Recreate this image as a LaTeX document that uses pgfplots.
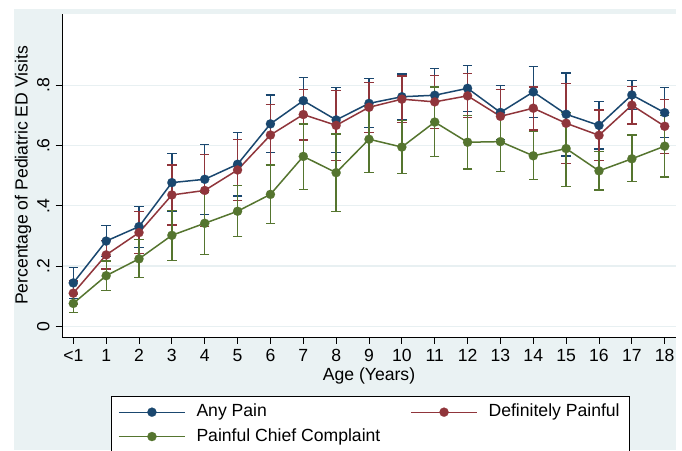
\documentclass[border=0pt]{standalone}
\usepackage{fontspec}
\setmainfont{Liberation Sans}
\usepackage{pgfplots}
\usepackage{pgfplotstable}
\pgfplotsset{compat=1.18}
\definecolor{sblue}{RGB}{26,71,111}
\definecolor{sred}{RGB}{144,53,59}
\definecolor{sgreen}{RGB}{85,117,47}
\definecolor{sbg}{RGB}{234,242,243}
\definecolor{sgrid}{RGB}{232,240,242}

\pgfplotstableread{
x y lo hi
0 .144 .093 .195
1 .283 .231 .335
2 .331 .262 .397
3 .477 .383 .573
4 .488 .372 .603
5 .538 .433 .643
6 .672 .576 .768
7 .749 .672 .826
8 .685 .578 .793
9 .740 .659 .822
10 .762 .685 .838
11 .767 .680 .855
12 .790 .714 .866
13 .710 .620 .800
14 .778 .693 .862
15 .704 .565 .841
16 .667 .589 .747
17 .768 .720 .815
18 .709 .626 .793
}\tblue

\pgfplotstableread{
x y lo hi
0 .110 .072 .150
1 .237 .190 .285
2 .311 .242 .380
3 .436 .336 .535
4 .451 .332 .570
5 .519 .417 .621
6 .635 .535 .736
7 .703 .618 .785
8 .667 .551 .783
9 .727 .644 .810
10 .754 .676 .831
11 .745 .657 .832
12 .765 .694 .840
13 .697 .610 .787
14 .724 .652 .794
15 .674 .541 .807
16 .634 .551 .718
17 .734 .672 .797
18 .664 .574 .754
}\tred

\pgfplotstableread{
x y lo hi
0 .076 .045 .107
1 .168 .119 .217
2 .224 .161 .289
3 .302 .219 .384
4 .342 .239 .445
5 .382 .299 .468
6 .438 .341 .535
7 .564 .455 .672
8 .510 .382 .638
9 .621 .510 .730
10 .595 .508 .683
11 .678 .563 .794
12 .611 .522 .699
13 .613 .513 .710
14 .566 .488 .647
15 .590 .465 .710
16 .516 .452 .580
17 .556 .481 .635
18 .598 .496 .700
}\tgreen

\pgfplotsset{
  series/.style={color=#1, line width=1.5pt, mark=*, mark size=4.6pt,
    mark options={solid, fill=#1, draw=#1, line width=0.1pt},
    error bars/.cd, y dir=both, y explicit,
    error bar style={line width=1.3pt, #1},
    error mark options={rotate=90, line width=1.3pt, mark size=4.7pt, #1}},
}

\begin{document}
\fontsize{17.6}{21}\selectfont
\begin{tikzpicture}[x=1pt,y=1pt]
\path[use as bounding box] (0,0) rectangle (682,450);
\fill[white] (0,0) rectangle (682,450);
\fill[sbg] (14,0) rectangle (676,441);
\begin{axis}[
  at={(62pt,113pt)}, anchor=south west,
  width=614pt, height=323pt, scale only axis,
  xmin=-0.344, xmax=18.344, ymin=-0.0355, ymax=1.0367,
  axis background/.style={fill=white},
  axis x line*=bottom, axis y line*=left,
  axis line style={-, black, line width=0.9pt},
  tick align=outside, major tick length=6.5pt,
  tick style={black, line width=0.9pt},
  xtick={0,1,2,3,4,5,6,7,8,9,10,11,12,13,14,15,16,17,18},
  xticklabels={<1,1,2,3,4,5,6,7,8,9,10,11,12,13,14,15,16,17,18},
  ytick={0,0.2,0.4,0.6,0.8}, yticklabels={0,.2,.4,.6,.8},
  yticklabel style={rotate=90, anchor=south},
  xticklabel style={anchor=north},
  ymajorgrids, grid style={sgrid, line width=1.2pt},
  xlabel={Age (Years)}, ylabel={Percentage of Pediatric ED Visits},
  xlabel style={at={(axis description cs:0.5,-0.1207)}, anchor=center},
  ylabel style={at={(axis description cs:-0.0635,0.5)}, anchor=center},
  legend columns=2,
  legend cell align=left,
  legend style={at={(axis description cs:0.0798,-0.1827)}, anchor=north west,
    draw=black, line width=0.8pt, fill=white, inner xsep=7pt, inner ysep=5.6pt,
    row sep=4.1pt,
    nodes={inner xsep=0pt, inner ysep=2pt, text height=12.6pt, text depth=3.7pt},
    /tikz/every odd column/.append style={column sep=11pt},
    /tikz/every even column/.append style={column sep=0pt}},
  legend image code/.code={\draw[mark repeat=2,mark phase=2,#1,line width=1.1pt] plot coordinates {(0pt,0pt) (33pt,0pt) (66pt,0pt)};},
]
\addplot[series=sblue] table[x=x, y=y, y error plus expr=\thisrow{hi}-\thisrow{y}, y error minus expr=\thisrow{y}-\thisrow{lo}] {\tblue};
\addlegendentry{\makebox[214pt][l]{Any Pain}}
\addplot[series=sred] table[x=x, y=y, y error plus expr=\thisrow{hi}-\thisrow{y}, y error minus expr=\thisrow{y}-\thisrow{lo}] {\tred};
\addlegendentry{\makebox[134pt][l]{Definitely Painful}}
\addplot[series=sgreen] table[x=x, y=y, y error plus expr=\thisrow{hi}-\thisrow{y}, y error minus expr=\thisrow{y}-\thisrow{lo}] {\tgreen};
\addlegendentry{\makebox[214pt][l]{Painful Chief Complaint}}
\end{axis}
\end{tikzpicture}
\end{document}
